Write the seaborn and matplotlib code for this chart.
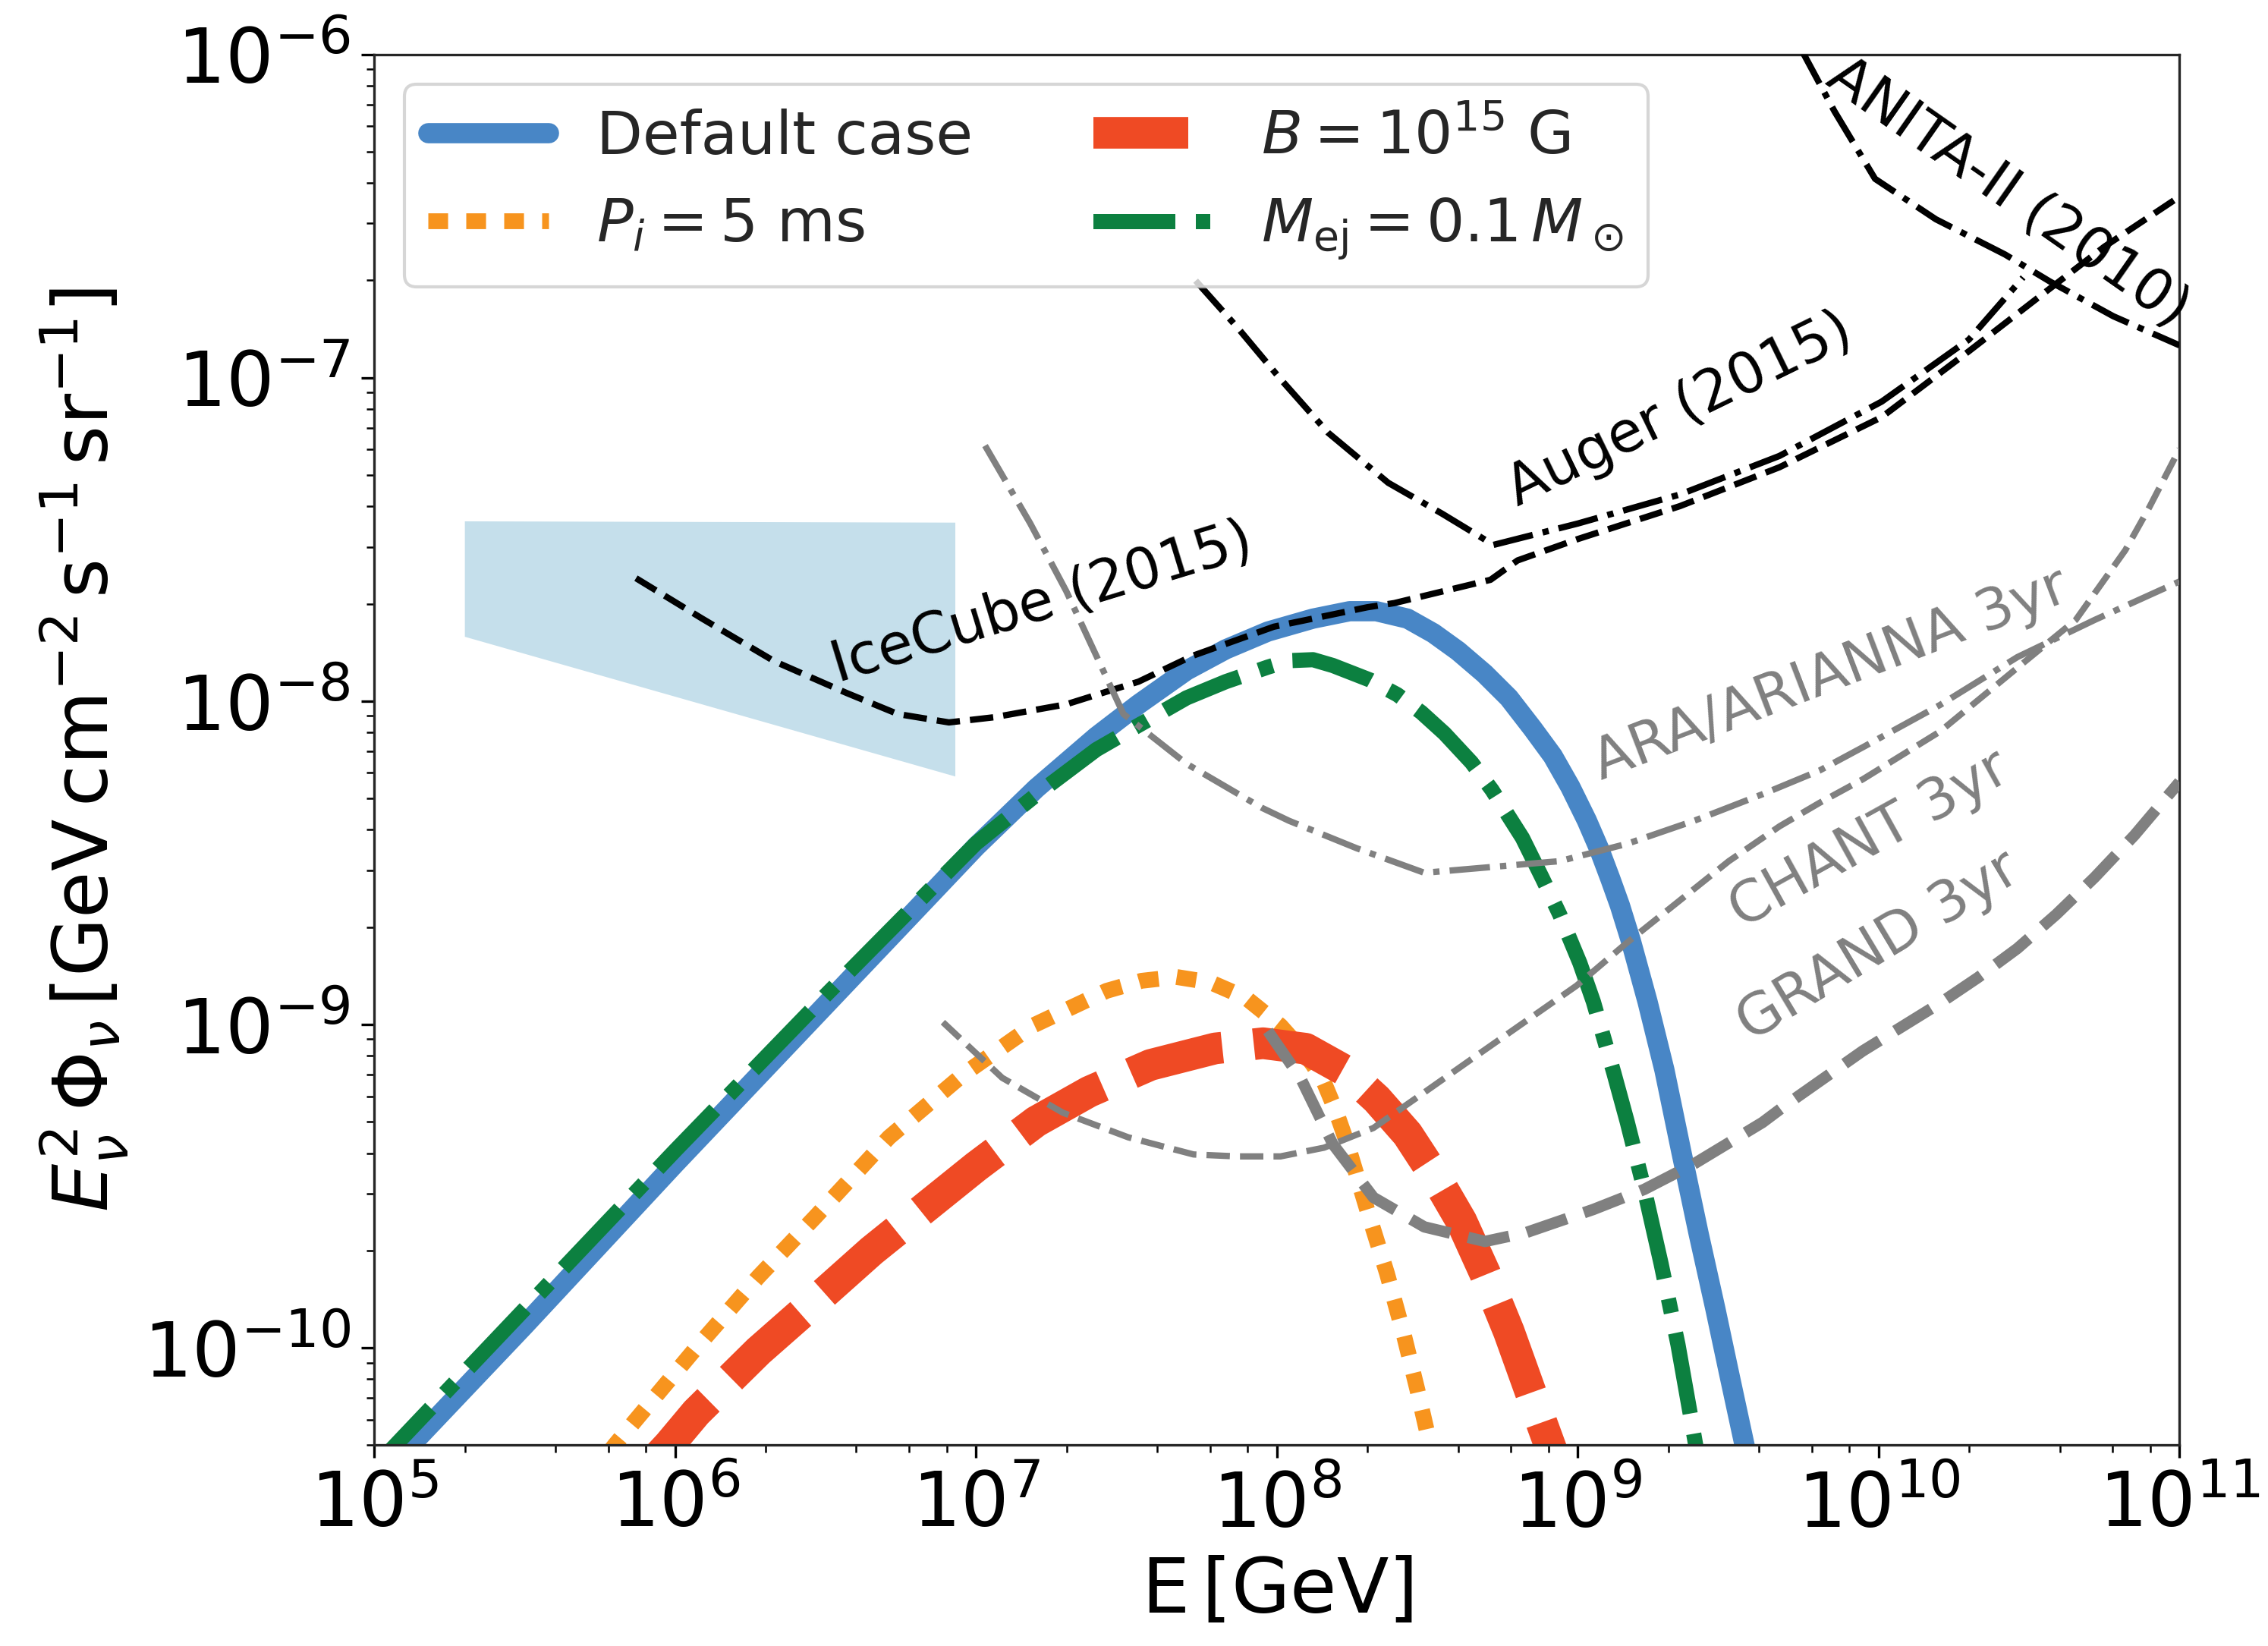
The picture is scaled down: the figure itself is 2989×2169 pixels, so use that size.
import numpy as np
import matplotlib
matplotlib.use("Agg")
import matplotlib.pyplot as plt
from matplotlib.ticker import LogLocator, NullFormatter
import seaborn as sns

# ---- values (log10 of E [GeV] and log10 of E^2 Phi) ----
# model curves
logE_default = [5.0, 5.5, 6.0, 6.5, 7.0, 7.2, 7.4, 7.54, 7.7, 7.83, 7.97, 8.12,
                8.242, 8.33, 8.434, 8.52, 8.602, 8.69, 8.771, 8.85, 8.917, 8.975,
                9.030, 9.07, 9.108, 9.14, 9.176, 9.232, 9.288, 9.344, 9.401, 9.457,
                9.502, 9.552, 9.60]
logF_default = [-10.42, -9.93, -9.43, -8.94, -8.45, -8.27, -8.11, -8.01, -7.905,
                -7.84, -7.785, -7.745, -7.722, -7.722, -7.745, -7.79, -7.845, -7.915,
                -7.99, -8.085, -8.17, -8.265, -8.369, -8.455, -8.549, -8.632, -8.74,
                -8.93, -9.141, -9.393, -9.644, -9.878, -10.075, -10.291, -10.50]

logE_pi = [5.70, 5.80, 6.07, 6.277, 6.465, 6.711, 6.957, 7.188, 7.434, 7.55, 7.665,
           7.78, 7.896, 8.012, 8.08, 8.12, 8.157, 8.195, 8.231, 8.299, 8.366, 8.422,
           8.467, 8.504, 8.54]
logF_pi = [-10.42, -10.30, -10.0, -9.78, -9.596, -9.349, -9.155, -9.004, -8.896,
           -8.865, -8.853, -8.87, -8.917, -9.004, -9.075, -9.125, -9.18, -9.265,
           -9.36, -9.57, -9.77, -9.96, -10.13, -10.28, -10.42]

logE_b = [5.90, 5.98, 6.07, 6.277, 6.436, 6.653, 7.0, 7.2, 7.376, 7.58, 7.795,
          7.954, 8.096, 8.231, 8.332, 8.434, 8.535, 8.613, 8.692, 8.771, 8.827,
          8.883, 8.93]
logF_b = [-10.38, -10.30, -10.20, -10.01, -9.88, -9.70, -9.44, -9.30, -9.208,
          -9.125, -9.074, -9.058, -9.075, -9.145, -9.231, -9.339, -9.483, -9.608,
          -9.77, -9.95, -10.095, -10.24, -10.36]

logE_mej = [5.0, 5.5, 6.0, 6.5, 7.0, 7.2, 7.4, 7.54, 7.7, 7.83, 7.97, 8.04, 8.12,
            8.186, 8.31, 8.40, 8.48, 8.557, 8.647, 8.715, 8.816, 8.883, 8.94, 9.007,
            9.052, 9.12, 9.164, 9.221, 9.277, 9.333, 9.373, 9.42]
logF_mej = [-10.37, -9.88, -9.39, -8.91, -8.44, -8.29, -8.15, -8.075, -7.99, -7.94,
            -7.895, -7.875, -7.872, -7.89, -7.935, -7.98, -8.035, -8.10, -8.19,
            -8.275, -8.423, -8.549, -8.66, -8.81, -8.93, -9.15, -9.30, -9.51, -9.74,
            -9.99, -10.20, -10.45]

# experimental limits / sensitivities
logE_icecube = [5.87, 6.09, 6.33, 6.57, 6.74, 6.91, 7.06, 7.30, 7.54, 7.72, 7.99,
                8.30, 8.39, 8.71, 8.80, 9.00, 9.34, 9.67, 10.01, 10.30, 10.55,
                10.75, 11.0]
logF_icecube = [-7.62, -7.745, -7.877, -7.975, -8.04, -8.066, -8.05, -8.01, -7.94,
                -7.86, -7.77, -7.71, -7.697, -7.625, -7.565, -7.499, -7.397,
                -7.277, -7.122, -6.918, -6.738, -6.595, -6.44]

logE_auger = [7.73, 7.87, 8.01, 8.17, 8.37, 8.55, 8.72, 9.00, 9.34, 9.67, 10.01,
              10.30, 10.48]
logF_auger = [-6.70, -6.846, -7.002, -7.17, -7.325, -7.421, -7.517, -7.451, -7.361,
              -7.242, -7.074, -6.882, -6.69]

logE_anita = [9.74, 9.763, 9.853, 9.988, 10.19, 10.42, 10.57, 10.78, 11.0]
logF_anita = [-5.98, -6.02, -6.176, -6.385, -6.51, -6.619, -6.703, -6.81, -6.90]

logE_ara = [7.03, 7.18, 7.30, 7.41, 7.49, 7.70, 7.95, 8.04, 8.265, 8.49, 8.715,
            8.94, 9.165, 9.39, 9.614, 9.803, 9.947, 10.204, 10.461, 10.718, 11.0]
logF_ara = [-7.21, -7.45, -7.66, -7.88, -8.04, -8.194, -8.33, -8.37, -8.455,
            -8.531, -8.513, -8.495, -8.441, -8.369, -8.288, -8.215, -8.143, -8.012,
            -7.864, -7.749, -7.63]

logE_chant = [6.89, 7.087, 7.289, 7.506, 7.723, 7.868, 8.012, 8.157, 8.321, 8.49,
              8.658, 8.827, 8.996, 9.165, 9.333, 9.502, 9.671, 9.803, 9.947, 10.204,
              10.461, 10.655, 10.82, 10.9, 11.0]
logF_chant = [-8.993, -9.165, -9.273, -9.349, -9.402, -9.408, -9.408, -9.381, -9.32,
              -9.21, -9.10, -8.99, -8.88, -8.746, -8.621, -8.495, -8.387, -8.315,
              -8.242, -8.094, -7.897, -7.749, -7.533, -7.40, -7.22]

logE_grand = [7.97, 8.08, 8.186, 8.321, 8.49, 8.692, 8.827, 9.052, 9.221, 9.39,
              9.614, 9.69, 9.947, 10.204, 10.33, 10.461, 10.59, 10.718, 10.85, 11.0]
logF_grand = [-9.02, -9.168, -9.37, -9.535, -9.626, -9.671, -9.644, -9.572, -9.51,
              -9.429, -9.303, -9.25, -9.082, -8.934, -8.855, -8.765, -8.66, -8.545,
              -8.415, -8.25]

# IceCube astrophysical flux band
logE_band = [5.30, 6.93]
logF_band_hi = [-7.443, -7.447]
logF_band_lo = [-7.80, -8.232]

# labels
model_labels = ["Default case", r"$P_i = 5$ ms", r"$B = 10^{15}$ G",
                r"$M_{\rm ej} = 0.1\,M_\odot$"]

sns.set_style("ticks")
plt.rcParams["font.family"] = ["DejaVu Sans"]
plt.rcParams["mathtext.fontset"] = "dejavusans"

fig, ax = plt.subplots(figsize=(2989 / 300, 2169 / 300), dpi=300)
fig.subplots_adjust(left=0.165, right=0.961, top=0.967, bottom=0.122)
ax.set_xscale("log")
ax.set_yscale("log")


def tenpow(a):
    return np.power(10.0, np.asarray(a))


# IceCube band
ax.fill_between(tenpow(logE_band), tenpow(logF_band_lo), tenpow(logF_band_hi),
                color="#C5DFEB", lw=0, zorder=1)

# model curves
sns.lineplot(x=tenpow(logE_default), y=tenpow(logF_default), ax=ax, sort=False,
             estimator=None, color="#4886C6", lw=6.4, label=model_labels[0], zorder=2)
sns.lineplot(x=tenpow(logE_pi), y=tenpow(logF_pi), ax=ax, sort=False,
             estimator=None, color="#F7941E", lw=5.0, linestyle=(0, (1.25, 1.15)),
             label=model_labels[1], zorder=2)
sns.lineplot(x=tenpow(logE_b), y=tenpow(logF_b), ax=ax, sort=False,
             estimator=None, color="#EF4A24", lw=10, linestyle=(0, (3.0, 1.0)),
             label=model_labels[2], zorder=2)
sns.lineplot(x=tenpow(logE_mej), y=tenpow(logF_mej), ax=ax, sort=False,
             estimator=None, color="#0C8040", lw=4.8,
             linestyle=(0, (5.4, 1.35, 0.95, 1.35)),
             label=model_labels[3], zorder=2)

# experiments
sns.lineplot(x=tenpow(logE_icecube), y=tenpow(logF_icecube), ax=ax, sort=False,
             estimator=None, color="black", lw=2, linestyle="--", zorder=3)
sns.lineplot(x=tenpow(logE_auger), y=tenpow(logF_auger), ax=ax, sort=False,
             estimator=None, color="black", lw=2, linestyle="-.", zorder=3)
sns.lineplot(x=tenpow(logE_anita), y=tenpow(logF_anita), ax=ax, sort=False,
             estimator=None, color="black", lw=2, linestyle="-.", zorder=3)
sns.lineplot(x=tenpow(logE_ara), y=tenpow(logF_ara), ax=ax, sort=False,
             estimator=None, color="gray", lw=2, linestyle="-.", zorder=3)
sns.lineplot(x=tenpow(logE_chant), y=tenpow(logF_chant), ax=ax, sort=False,
             estimator=None, color="gray", lw=2, linestyle="--", zorder=3)
sns.lineplot(x=tenpow(logE_grand), y=tenpow(logF_grand), ax=ax, sort=False,
             estimator=None, color="gray", lw=3.6, linestyle="--", zorder=3)

# curve labels
txt = dict(ha="center", va="center", fontsize=18, rotation_mode="anchor")
ax.text(10**7.22, 10**-7.70, "IceCube (2015)", rotation=17, color="black", **txt)
ax.text(10**9.34, 10**-7.10, "Auger (2015)", rotation=26, color="black", **txt)
ax.text(10**10.43, 10**-6.43, "ANITA-II (2010)", rotation=-35, color="black", **txt)
ax.text(10**9.84, 10**-7.92, "ARA/ARIANNA 3yr", rotation=21, color="gray", **txt)
ax.text(10**9.97, 10**-8.43, "CHANT 3yr", rotation=29, color="gray", **txt)
ax.text(10**10.0, 10**-8.76, "GRAND 3yr", rotation=31, color="gray", **txt)

ax.set_xlim(1e5, 1e11)
ax.set_ylim(5e-11, 1e-6)
ax.xaxis.set_minor_locator(LogLocator(base=10, subs=(2, 4, 6, 8), numticks=20))
ax.xaxis.set_minor_formatter(NullFormatter())
ax.yaxis.set_minor_formatter(NullFormatter())
ax.tick_params(which="major", labelsize=24, length=4, width=0.8, colors="black")
ax.tick_params(which="minor", length=2.3, width=0.6, colors="black")
for s in ax.spines.values():
    s.set_linewidth(0.8)
    s.set_color("0.15")

ax.set_xlabel(r"$\mathrm{E\,[GeV]}$", fontsize=24, color="black", labelpad=4)
ax.set_ylabel(r"$E_{\nu}^2\,\Phi_{\nu}\,[\mathrm{GeV\,cm^{-2}\,s^{-1}\,sr^{-1}}]$",
              fontsize=24, color="black", labelpad=4)

handles, labels = ax.get_legend_handles_labels()
ax.legend(handles[:4], labels[:4], ncol=2, loc="upper left", fontsize=19,
          frameon=True, framealpha=0.8, edgecolor="0.8", fancybox=True)

fig.savefig("out.png", dpi=300)
